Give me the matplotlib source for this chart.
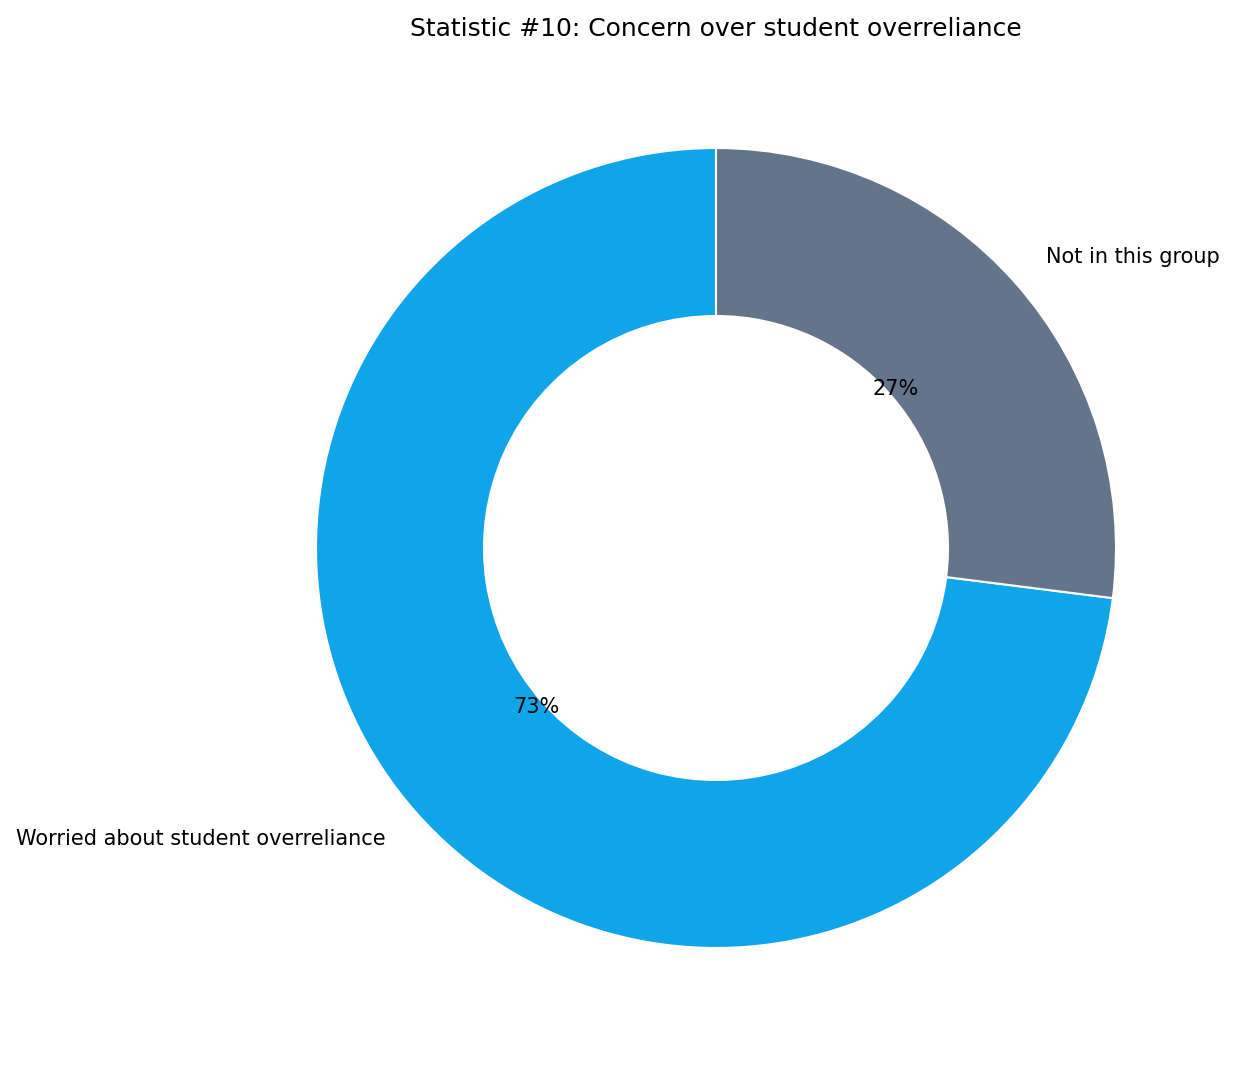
import matplotlib.pyplot as plt

labels = ['Worried about student overreliance', 'Not in this group']
values = [73, 27]
colors = ['#10A5E8', '#64748B']

fig = plt.figure(figsize=(8.2333, 7.1), dpi=150)
ax = fig.add_axes([216 / 1235, 17 / 1065, 1000 / 1235, 1000 / 1065])
ax.pie(values, labels=labels, colors=colors, startangle=90, autopct='%1.0f%%',
       pctdistance=0.6, labeldistance=1.1,
       wedgeprops=dict(width=0.42, edgecolor='white', linewidth=1))
ax.set_title('Statistic #10: Concern over student overreliance')
plt.savefig('out.png')
